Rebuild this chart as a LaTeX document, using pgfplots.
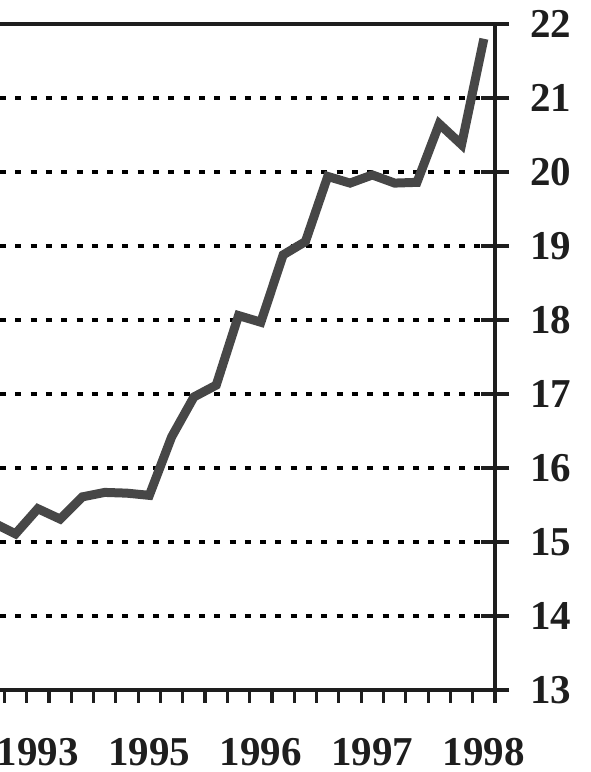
\documentclass[border=0pt]{standalone}
\usepackage{fontspec}
\setmainfont{Liberation Serif}
\usepackage{pgfplots}
\pgfplotsset{compat=1.18}
\definecolor{linegray}{HTML}{474747}
\definecolor{axblack}{HTML}{1E1E1E}
\pgfplotstableread{
i v
-2 15.35
-1 15.26
0 15.11
1 15.45
2 15.31
3 15.61
4 15.67
5 15.66
6 15.63
7 16.42
8 16.96
9 17.12
10 18.06
11 17.97
12 18.88
13 19.06
14 19.94
15 19.85
16 19.96
17 19.85
18 19.86
19 20.65
20 20.37
21 21.80
}\datatable
\begin{document}
\begin{tikzpicture}
\pgfplotsset{
  common/.style={
    scale only axis, width=247.5pt, height=333pt,
    xmin=-0.695, xmax=21.5, ymin=13, ymax=22,
    axis x line=bottom, axis y line=right,
    axis line style={-, line width=1.6pt, color=axblack},
    /pgf/number format/assume math mode=true,
    ticklabel style={font=\bfseries\fontsize{20.5}{24}\selectfont, color=axblack},
  }
}
\begin{axis}[common,
  ytick={13,...,21},
  extra y ticks={22},
  extra y tick style={grid=major, major grid style={solid, line width=1.6pt, color=axblack}},
  ymajorgrids,
  major grid style={black, line width=1.65pt, dash pattern=on 3pt off 4.65pt},
  tick align=center, major tick length=14pt,
  tick style={line width=1.6pt, color=axblack},
  x tick style={opacity=0},
  xtick={1,6,11,16,21}, xticklabels={1993,1995,1996,1997,1998},
  xticklabel style={anchor=base, yshift=-30.5pt},
  yticklabel style={anchor=west, inner sep=0pt, xshift=10.5pt},
]
\addplot[linegray, line width=4.5pt, line join=miter, mark=none] table[x=i, y=v] {\datatable};
\end{axis}
\begin{axis}[common,
  tick align=outside, major tick length=6.5pt,
  tick style={line width=1.6pt, color=axblack},
  xtick={-0.5,0.5,...,21.5}, xticklabels={},
  ytick=\empty,
  axis line style={draw=none},
]
\end{axis}
\pgfresetboundingbox
\path[use as bounding box] ([yshift=-41pt]current axis.south west) rectangle ([xshift=47.5pt,yshift=12pt]current axis.north east);
\end{tikzpicture}
\end{document}
